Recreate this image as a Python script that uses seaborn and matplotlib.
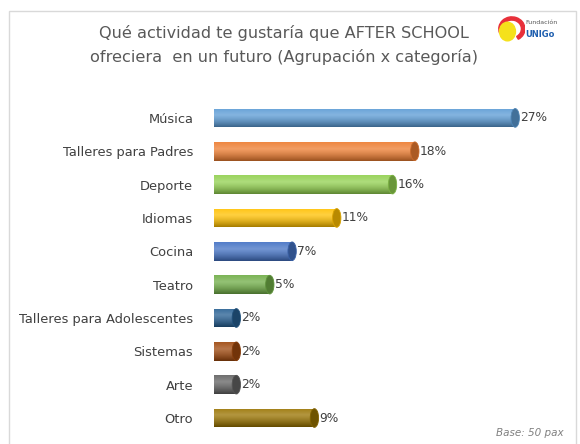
import numpy as np
import pandas as pd
import matplotlib
matplotlib.use("Agg")
import matplotlib.pyplot as plt
import matplotlib.colors as mcolors
from matplotlib.patches import Ellipse, Rectangle, Wedge
import seaborn as sns

# Data
categories = ['Música', 'Talleres para Padres', 'Deporte', 'Idiomas', 'Cocina',
              'Teatro', 'Talleres para Adolescentes', 'Sistemas', 'Arte', 'Otro']
values = [27, 18, 16, 11, 7, 5, 2, 2, 2, 9]
bar_colors = ['#5B9BD5', '#ED7D31', '#92D050', '#FFC000', '#4472C4',
              '#70AD47', '#255E91', '#9E480E', '#636363', '#997300']
title = 'Qué actividad te gustaría que AFTER SCHOOL\nofreciera  en un futuro (Agrupación x categoría)'
footnote = 'Base: 50 pax'

df = pd.DataFrame({'cat': categories, 'val': values})

sns.set_theme(style="white")
plt.rcParams['font.family'] = ['DejaVu Sans']

fig = plt.figure(figsize=(5.8, 4.44), dpi=100)
ax = fig.add_axes([0.369, 0.021, 0.577, 0.751])

sns.barplot(data=df, x='val', y='cat', hue='cat', palette=bar_colors,
            legend=False, width=0.56, ax=ax, saturation=1)

ax.set_xlim(0, 30)
ax.set_ylim(9.5, -0.5)
ax.set_xlabel('')
ax.set_ylabel('')
ax.set_xticks([])
for s in ax.spines.values():
    s.set_visible(False)
ax.tick_params(axis='y', length=0, pad=15, labelsize=9.4, labelcolor='#404040')


def shade(rgb, t):
    # t: 0 top edge -> 1 bottom edge
    rgb = np.array(rgb)
    white = np.ones(3)
    if t < 0.35:
        k = 0.08 + 0.17 * (t / 0.35)
        return rgb * (1 - k) + white * k
    k = (t - 0.35) / 0.65
    return (rgb * (1 - 0.35 * k ** 1.3)) * (1 - 0.25 * (1 - k)) + white * 0.25 * (1 - k)


# cylinder look: gradient fill + darker end cap
for patch, col, v in zip(ax.patches, bar_colors, values):
    x0, y0 = patch.get_x(), patch.get_y()
    w, h = patch.get_width(), patch.get_height()
    rgb = mcolors.to_rgb(col)
    n = 40
    grad = np.array([shade(rgb, i / (n - 1)) for i in range(n)]).reshape(n, 1, 3)
    grad = np.clip(grad, 0, 1)
    im = ax.imshow(grad, extent=(x0, x0 + w, y0 + h, y0), aspect='auto',
                   origin='upper', zorder=2, interpolation='bilinear')
    im.set_clip_path(patch)
    dark = np.array(rgb) * 0.72
    cap = Ellipse((x0 + w, y0 + h / 2), width=0.75, height=h,
                  facecolor=dark, edgecolor=np.array(rgb) * 0.85, lw=0.6, zorder=3)
    ax.add_patch(cap)
    ax.text(x0 + w + 0.45, y0 + h / 2, f'{v}%', va='center', ha='left',
            fontsize=8.8, color='#404040', zorder=4)

# title and footnote
fig.text(0.49, 0.899, title, ha='center', va='center', fontsize=11.6,
         color='#595959', linespacing=1.6)
fig.text(0.972, 0.025, footnote, ha='right', va='center', fontsize=7.5,
         color='#808080', style='italic')

# chart border
fig.patches.append(Rectangle((9 / 580, -0.05), 567 / 580, 1.05 - 11 / 444,
                             transform=fig.transFigure, fill=False,
                             edgecolor='#D9D9D9', lw=1.0))

# small logo
lax = fig.add_axes([0.855, 0.905, 0.05, 0.06])
lax.set_xlim(0, 1)
lax.set_ylim(0, 1)
lax.axis('off')
lax.add_patch(Wedge((0.55, 0.5), 0.45, -60, 200, width=0.12, color='#E8303A'))
lax.add_patch(Ellipse((0.4, 0.4), 0.55, 0.7, color='#F5E11B'))
fig.text(0.905, 0.95, 'Fundación', fontsize=4.5, color='#555555', ha='left', va='center')
fig.text(0.905, 0.922, 'UNIGo', fontsize=6, color='#1F5FAF', ha='left', va='center',
         weight='bold')

fig.savefig('out.png', dpi=100)
